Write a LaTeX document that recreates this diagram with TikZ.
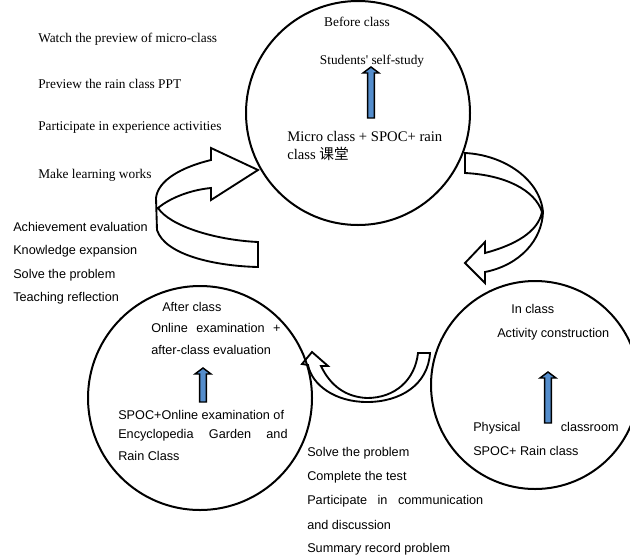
\documentclass[tikz,border=0pt]{standalone}
\usepackage{fontspec}
\setmainfont{Liberation Serif}
\setsansfont{Liberation Sans}
\newfontfamily\cjkfont{Noto Sans CJK SC}
\usetikzlibrary{calc}

\definecolor{arrowblue}{RGB}{84,141,204}

\tikzset{
  phase/.style={draw, circle, line width=1.5pt, inner sep=0pt},
  ribbon/.style={draw, fill=white, line width=1.4pt, line join=miter},
  blockup/.style={draw, fill=arrowblue, line width=1.1pt},
  serif/.style={font=\fontsize{10}{12}\selectfont, inner sep=0pt, anchor=west},
  sans/.style={font=\sffamily\fontsize{9.5}{11}\selectfont, inner sep=0pt, anchor=west},
}

% fat upward arrow from bottom point #1 to tip #2
\newcommand{\blockarrow}[2]{%
  \filldraw[blockup] ($(#1)+(-3.3,0)$) -- ($(#2)+(-3.3,6)$) -- ($(#2)+(-8,6)$)
    -- (#2) -- ($(#2)+(8,6)$) -- ($(#2)+(3.3,6)$) -- ($(#1)+(3.3,0)$) -- cycle;}

\begin{document}
\begin{tikzpicture}[x=0.75pt, y=-0.75pt]
    \useasboundingbox (0,0) rectangle (630,557);

    % Curved arrows between the phases (drawn first, circles go on top)
    % after class -> before class
    \draw[ribbon] (211,160) .. controls (182,167) and (158,180) .. (156,198)
        -- (157,230) .. controls (165,255) and (215,266) .. (258,267)
        -- (258,242) .. controls (215,240) and (170,226) .. (158,208)
        .. controls (170,198) and (190,190) .. (211,188)
        -- (211,200) -- (258,170) -- (211,148) -- cycle;
    % before class -> in class
    \draw[ribbon] (465,153) .. controls (505,155) and (540,180) .. (543,212)
        .. controls (542,240) and (520,265) .. (485,272)
        -- (485,283) -- (465,263) -- (485,242) -- (485,253)
        .. controls (515,245) and (538,232) .. (542,212)
        .. controls (535,190) and (505,175) .. (465,173) -- cycle;
    % in class -> after class
    \draw[ribbon] (430,353) .. controls (428,385) and (400,402) .. (367,402)
        .. controls (335,402) and (312,385) .. (308,365)
        -- (302,364) -- (312,352) -- (328,366) -- (321,366)
        .. controls (330,385) and (345,397) .. (367,398)
        .. controls (395,398) and (415,380) .. (418,353) -- cycle;

    % The three phases
    \node[phase, minimum size=168pt] (before) at (358,113) {};
    \node[phase, minimum size=168pt] (after) at (200,398) {};
    \node[phase, minimum size=156pt] (inclass) at (535,385) {};

    % --- Before class ---
    \node[serif, anchor=center] (beforelbl) at (357,22) {Before class};
    \node[serif, anchor=center] (selfstudy) at (372,61) {Students\textquotesingle{} self-study};
    \node[serif, font=\fontsize{11}{14}\selectfont, align=left] (micro) at (287,146)
        {Micro class + SPOC+ rain\\class {\cjkfont 课堂}};
    \coordinate (selfB) at (371,118);
    \coordinate (selfT) at (371,67);
    \blockarrow{selfB}{selfT}

    \node[serif] (watch) at (38,39) {Watch the preview of micro-class};
    \node[serif] (ppt) at (38,84) {Preview the rain class PPT};
    \node[serif] (exper) at (38,128) {Participate in experience activities};
    \node[serif] (works) at (38,175) {Make learning works};

    % --- After class ---
    \node[sans] (achieve) at (13,227) {Achievement evaluation};
    \node[sans] (knowl) at (13,251) {Knowledge expansion};
    \node[sans] (solvea) at (13,275) {Solve the problem};
    \node[sans] (reflect) at (13,298) {Teaching reflection};

    \node[sans] (afterlbl) at (162,307) {After class};
    \node[sans] (online) at (151,328) {\makebox[97pt][s]{Online examination +}};
    \node[sans] (aftereval) at (151,350) {after-class evaluation};
    \node[sans] (spoca) at (118,415) {SPOC+Online examination of};
    \node[sans] (spocb) at (118,435) {\makebox[127pt][s]{Encyclopedia Garden and}};
    \node[sans] (spocc) at (118,456) {Rain Class};
    \coordinate (examB) at (203,402);
    \coordinate (examT) at (203,368);
    \blockarrow{examB}{examT}

    % --- In class ---
    \node[sans] (inlbl) at (511,309) {In class};
    \node[sans] (activity) at (497,334) {Activity construction};
    \node[sans] (physical) at (473,428) {\makebox[109pt][s]{Physical classroom}};
    \node[sans] (spocrain) at (473,451) {SPOC+ Rain class};
    \coordinate (actB) at (548,423);
    \coordinate (actT) at (548,372);
    \blockarrow{actB}{actT}

    \node[sans] (solveb) at (307,453) {Solve the problem};
    \node[sans] (test) at (307,477) {Complete the test};
    \node[sans] (commu) at (307,501) {\makebox[132pt][s]{Participate in communication}};
    \node[sans] (discuss) at (307,525) {and discussion};
    \node[sans] (summary) at (307,549) {Summary record problem};
\end{tikzpicture}
\end{document}
